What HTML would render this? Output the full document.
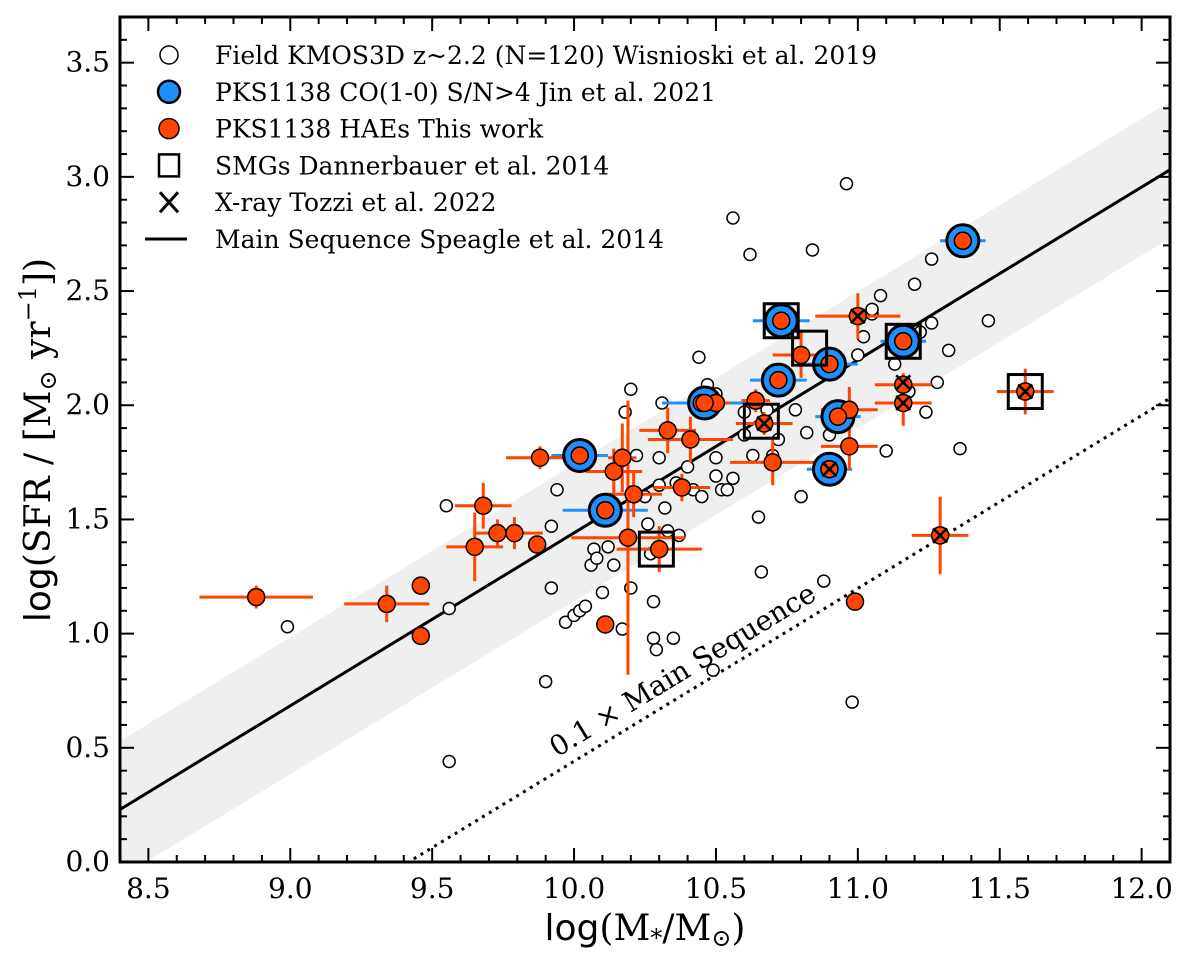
<!DOCTYPE html>
<html><head><meta charset="utf-8"><style>
html,body{margin:0;background:#fff;font-family:"DejaVu Serif","Liberation Serif",serif;overflow:hidden;width:1200px;height:953px}
svg{display:block;overflow:hidden}
</style></head><body>
<svg id="c" width="1200" height="953"></svg>
<script>
const fieldX=[8.99,9.56,9.55,9.56,9.9,9.92,9.92,9.94,9.97,10.0,10.02,10.04,10.06,10.07,10.08,10.1,10.12,10.14,10.17,10.18,10.2,10.2,10.22,10.25,10.26,10.27,10.28,10.28,10.29,10.3,10.3,10.31,10.32,10.33,10.35,10.36,10.38,10.4,10.42,10.44,10.45,10.47,10.5,10.5,10.49,10.52,10.54,10.56,10.56,10.6,10.62,10.63,10.65,10.66,10.68,10.7,10.72,10.75,10.78,10.8,10.82,10.84,10.88,10.9,10.92,10.96,10.98,11.0,11.02,11.05,11.08,11.1,11.12,11.13,11.2,11.22,11.24,11.26,11.26,11.28,11.32,11.36,11.46,10.13,10.16,10.44,10.5,10.6,11.05,11.18,10.37];
const fieldY=[1.03,1.11,1.56,0.44,0.79,1.47,1.2,1.63,1.05,1.08,1.1,1.12,1.3,1.37,1.33,1.18,1.38,1.3,1.02,1.97,2.07,1.2,1.78,1.6,1.48,1.35,1.14,0.98,0.93,1.77,1.65,2.01,1.55,1.45,0.98,1.66,1.65,1.73,1.63,2.21,1.6,2.09,1.69,1.77,0.84,1.63,1.63,1.68,2.82,1.87,2.66,1.78,1.51,1.27,1.98,1.78,1.85,2.1,1.98,1.6,1.88,2.68,1.23,1.87,2.2,2.97,0.70,2.22,2.3,2.4,2.48,1.8,2.27,2.18,2.53,2.32,1.97,2.64,2.36,2.1,2.24,1.81,2.37,1.52,1.75,1.98,2.05,1.97,2.42,2.06,1.43];
const haeX=[8.88,9.34,9.46,9.46,9.65,9.68,9.73,9.79,9.87,9.88,10.11,10.14,10.17,10.19,10.21,10.3,10.33,10.38,10.41,10.45,10.5,10.64,10.7,10.8,10.97,10.97,10.99,11.0,11.16,11.16,11.29,11.59,10.67];
const haeY=[1.16,1.13,0.99,1.21,1.38,1.56,1.44,1.44,1.39,1.77,1.04,1.71,1.77,1.42,1.61,1.37,1.89,1.64,1.85,2.01,2.01,2.02,1.75,2.22,1.98,1.82,1.14,2.39,2.09,2.01,1.43,2.06,1.92];
const haeXerr=[0.2,0.15,0,0,0.1,0.1,0.08,0.1,0,0.12,0,0.1,0.05,0.2,0.1,0.15,0.1,0.1,0.15,0.05,0.05,0.05,0.15,0.1,0.1,0.1,0,0.15,0.1,0.1,0.1,0.1,0.1];
const haeYerr=[0.05,0.08,0,0,0.15,0.1,0.06,0.07,0,0.05,0,0.1,0.15,0.6,0.1,0.1,0.1,0.06,0.1,0.05,0.05,0.05,0.1,0.1,0.1,0.1,0,0.1,0.05,0.1,0.17,0.1,0.05];
const coX=[10.02,10.11,10.46,10.73,10.72,10.9,10.93,10.9,11.16,11.37];
const coY=[1.78,1.54,2.01,2.37,2.11,2.18,1.95,1.72,2.28,2.72];
const coXerr=[0.1,0.15,0.15,0.1,0.1,0.1,0.08,0.08,0.08,0.08];
const smgX=[10.73,10.83,10.66,10.29,11.16,11.59];
const smgY=[2.37,2.25,1.93,1.37,2.28,2.06];
const xrayX=[11.0,11.16,11.16,10.9,11.29,11.59,10.67];
const xrayY=[2.39,2.1,2.01,1.72,1.43,2.06,1.92];
const xTicks=[8.5,9.0,9.5,10.0,10.5,11.0,11.5,12.0];
const yTicks=[0.0,0.5,1.0,1.5,2.0,2.5,3.0,3.5];
const msIntercept=0.23, msSlope=0.757, msWidth=0.3;

const L=120,R=1170,T=17,B=862,X0=8.4,X1=12.1,Y0=0,Y1=3.7;
const sx=v=>L+(v-X0)/(X1-X0)*(R-L), sy=v=>B-(v-Y0)/(Y1-Y0)*(B-T);
const svg=document.getElementById('c');const NS='http://www.w3.org/2000/svg';
function el(t,a,p){const e=document.createElementNS(NS,t);for(const k in a)e.setAttribute(k,a[k]);(p||svg).appendChild(e);return e;}
const ms=x=>msIntercept+msSlope*(x-X0);

const defs=el('defs',{});
const cp=el('clipPath',{id:'clip'},defs);el('rect',{x:L,y:T,width:R-L,height:B-T},cp);
const g=el('g',{'clip-path':'url(#clip)'});


let band=el('polygon',{points:`${sx(X0)},${sy(ms(X0)+msWidth)} ${sx(X1)},${sy(ms(X1)+msWidth)} ${sx(X1)},${sy(ms(X1)-msWidth)} ${sx(X0)},${sy(ms(X0)-msWidth)}`,fill:'#efefef'},g);

let ml=el('line',{x1:sx(X0),y1:sy(ms(X0)),x2:sx(X1),y2:sy(ms(X1)),stroke:'#000','stroke-width':3},g);

let dl=el('line',{x1:sx(X0),y1:sy(ms(X0)-1),x2:sx(X1),y2:sy(ms(X1)-1),stroke:'#000','stroke-width':3,'stroke-dasharray':'3,5'},g);


fieldX.forEach((x,i)=>{let c=el('circle',{cx:sx(x),cy:sy(fieldY[i]),r:6,fill:'#fff',stroke:'#000','stroke-width':1.5},g);
});

coX.forEach((x,i)=>{let e=el('line',{x1:sx(x-coXerr[i]),x2:sx(x+coXerr[i]),y1:sy(coY[i]),y2:sy(coY[i]),stroke:'#1e8fff','stroke-width':3},g);
});
haeX.forEach((x,i)=>{
 if(haeXerr[i]>0){let e=el('line',{x1:sx(x-haeXerr[i]),x2:sx(x+haeXerr[i]),y1:sy(haeY[i]),y2:sy(haeY[i]),stroke:'#ff4500','stroke-width':3},g);
 }
 if(haeYerr[i]>0){let e=el('line',{x1:sx(x),x2:sx(x),y1:sy(haeY[i]-haeYerr[i]),y2:sy(haeY[i]+haeYerr[i]),stroke:'#ff4500','stroke-width':3},g);
 }
});
coX.forEach((x,i)=>{let c=el('circle',{cx:sx(x),cy:sy(coY[i]),r:16,fill:'#1e8fff',stroke:'#000','stroke-width':3},g);
});
haeX.forEach((x,i)=>{let c=el('circle',{cx:sx(x),cy:sy(haeY[i]),r:8.5,fill:'#ff4500',stroke:'#000','stroke-width':1.5},g);
});
coX.forEach((x,i)=>{let c=el('circle',{cx:sx(x),cy:sy(coY[i]),r:8.5,fill:'#ff4500',stroke:'#000','stroke-width':1.5},g);
});
smgX.forEach((x,i)=>{let s=el('rect',{x:sx(x)-17,y:sy(smgY[i])-17,width:34,height:34,fill:'none',stroke:'#000','stroke-width':3},g);
});
xrayX.forEach((x,i)=>{const cx=sx(x),cy=sy(xrayY[i]);let p=el('path',{d:`M${cx-7},${cy-7}L${cx+7},${cy+7}M${cx-7},${cy+7}L${cx+7},${cy-7}`,stroke:'#000','stroke-width':2.5},g);
});

const lx=sx(10.4),ly=sy(ms(10.4)-1)-14;
const ang=-Math.atan((sy(0)-sy(msSlope))/(sx(X0+1)-sx(X0)))*180/Math.PI;
let lt=el('text',{x:lx,y:ly,'font-size':28,'text-anchor':'middle',transform:`rotate(${ang} ${lx} ${ly})`});
lt.textContent='0.1 × Main Sequence';

let fr=el('rect',{x:L,y:T,width:R-L,height:B-T,fill:'none',stroke:'#000','stroke-width':3});

for(let v=8.4;v<=12.1;v+=0.1){const x=sx(v);const major=xTicks.some(t=>Math.abs(t-v)<1e-6);const len=major?14:7;
 el('line',{x1:x,x2:x,y1:B,y2:B-len,stroke:'#000','stroke-width':2});el('line',{x1:x,x2:x,y1:T,y2:T+len,stroke:'#000','stroke-width':2});}
for(let v=0.1;v<=3.7;v+=0.1){const y=sy(v);const major=yTicks.some(t=>Math.abs(t-v)<1e-6);const len=major?14:7;
 el('line',{x1:L,x2:L+len,y1:y,y2:y,stroke:'#000','stroke-width':2});el('line',{x1:R,x2:R-len,y1:y,y2:y,stroke:'#000','stroke-width':2});}
xTicks.forEach(v=>{let t=el('text',{x:sx(v),y:B+36,'font-size':28,'text-anchor':'middle'});t.textContent=v.toFixed(1);
});
yTicks.forEach(v=>{let t=el('text',{x:L-10,y:sy(v)+9,'font-size':28,'text-anchor':'end'});t.textContent=v.toFixed(1);
});

let xt=el('text',{x:645,y:940,'font-size':36,'text-anchor':'middle','font-family':'"DejaVu Sans",sans-serif'});
xt.innerHTML='log<tspan font-family="DejaVu Serif,serif">(M<tspan font-size="24" dy="6">*</tspan><tspan dy="-6">/M</tspan><tspan font-size="24" dy="6">⊙</tspan><tspan dy="-6">)</tspan></tspan>';

let yt=el('text',{x:0,y:0,'font-size':36,'text-anchor':'middle','font-family':'"DejaVu Sans",sans-serif',transform:'translate(50,440) rotate(-90)'});
yt.innerHTML='log<tspan font-family="DejaVu Serif,serif">(SFR / [M<tspan font-size="24" dy="6">⊙</tspan><tspan dy="-6"> yr</tspan><tspan font-size="24" dy="-14">−1</tspan><tspan dy="14">])</tspan></tspan>';


const legTexts=['Field KMOS3D z~2.2 (N=120) Wisnioski et al. 2019','PKS1138 CO(1-0) S/N>4 Jin et al. 2021','PKS1138 HAEs This work','SMGs Dannerbauer et al. 2014','X-ray Tozzi et al. 2022','Main Sequence Speagle et al. 2014'];
legTexts.forEach((s,i)=>{const yc=55+i*36.8,cx=169;
 const lg=el('g',{});
 if(i==0)el('circle',{cx,cy:yc,r:9,fill:'#fff',stroke:'#000','stroke-width':1.5},lg);
 if(i==1)el('circle',{cx,cy:yc,r:11,fill:'#1e8fff',stroke:'#000','stroke-width':2.5},lg);
 if(i==2)el('circle',{cx,cy:yc,r:10,fill:'#ff4500',stroke:'#000','stroke-width':1.5},lg);
 if(i==3)el('rect',{x:cx-10,y:yc-11,width:20,height:22,fill:'none',stroke:'#000','stroke-width':2.5},lg);
 if(i==4)el('path',{d:`M${cx-9},${yc-10}L${cx+9},${yc+10}M${cx-9},${yc+10}L${cx+9},${yc-10}`,stroke:'#000','stroke-width':3},lg);
 if(i==5)el('line',{x1:cx-24,x2:cx+18,y1:yc,y2:yc,stroke:'#000','stroke-width':3},lg);
 const t=el('text',{x:215,y:yc+9,'font-size':25},lg);t.textContent=s;});
</script>
</body></html>
